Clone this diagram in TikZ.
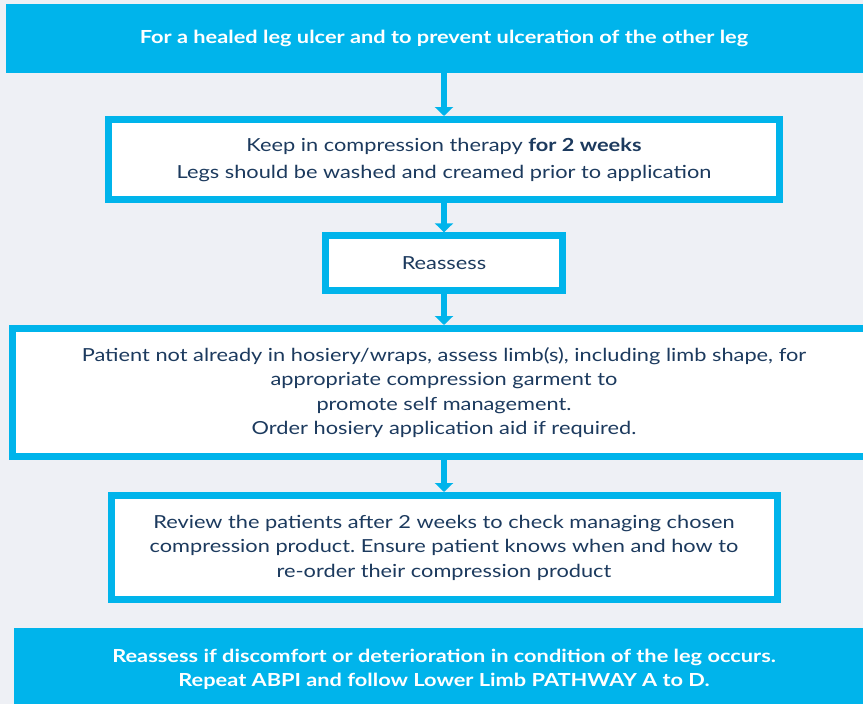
\documentclass[tikz,border=0pt]{standalone}
\usepackage{fontspec}
\setmainfont{Lato}[FakeStretch=1.21]
\frenchspacing
\usetikzlibrary{arrows.meta}
\usetikzlibrary{positioning}
\definecolor{pathblue}{RGB}{0,180,235}
\definecolor{pathnavy}{RGB}{28,58,94}
\definecolor{pathgrey}{RGB}{238,240,245}
\tikzset{
    banner/.style={fill=pathblue, text=white, align=center, inner sep=0pt,
        font=\bfseries\fontsize{18}{24}\selectfont},
    stepbox/.style={draw=pathblue, fill=white, line width=7pt, text=pathnavy,
        align=center, inner sep=0pt, font=\fontsize{18}{24.5}\selectfont},
    flow/.style={draw=pathblue, line width=6pt,
        -{Triangle[width=18pt,length=9pt]}},
}

\begin{document}
\begin{tikzpicture}[x=1pt, y=-1pt]
		\useasboundingbox (0,0) rectangle (863,704);
		\clip (0,0) rectangle (863,704);
		\fill[pathgrey] (0,0) rectangle (863,704);

		\node[banner, minimum width=877pt, minimum height=68.7pt] (top) at (444,38.4)
			{For a healed leg ulcer and to prevent ulceration of the other leg};
		\node[stepbox, minimum width=671pt, minimum height=80pt] (keep) at (444,159.5)
			{Keep in compression therapy \textbf{for 2 weeks}\\[2.5pt]
			 Legs should be washed and creamed prior to application};
		\node[stepbox, minimum width=237pt, minimum height=55pt] (reassess) at (444,263.3)
			{Reassess};
		\node[stepbox, minimum width=864pt, minimum height=128pt] (patient) at (444,392.5)
			{Patient not already in hosiery/wraps, assess limb(s), including limb shape, for\\
			 appropriate compression garment to\\
			 promote self management.\\
			 Order hosiery application aid if required.};
		\node[stepbox, minimum width=666pt, minimum height=104pt] (review) at (444,547.5)
			{Review the patients after 2 weeks to check managing chosen\\
			 compression product. Ensure patient knows when and how to\\
			 re-order their compression product};
		\node[banner, minimum width=860pt, minimum height=82pt] (bottom) at (444,669)
			{Reassess if discomfort or deterioration in condition of the leg occurs.\\
			 Repeat ABPI and follow Lower Limb PATHWAY A to D.};

		\draw[flow] (top) -- (keep);
		\draw[flow] (keep) -- (reassess);
		\draw[flow] (reassess) -- (patient);
		\draw[flow] (patient) -- (review);
\end{tikzpicture}
\end{document}
